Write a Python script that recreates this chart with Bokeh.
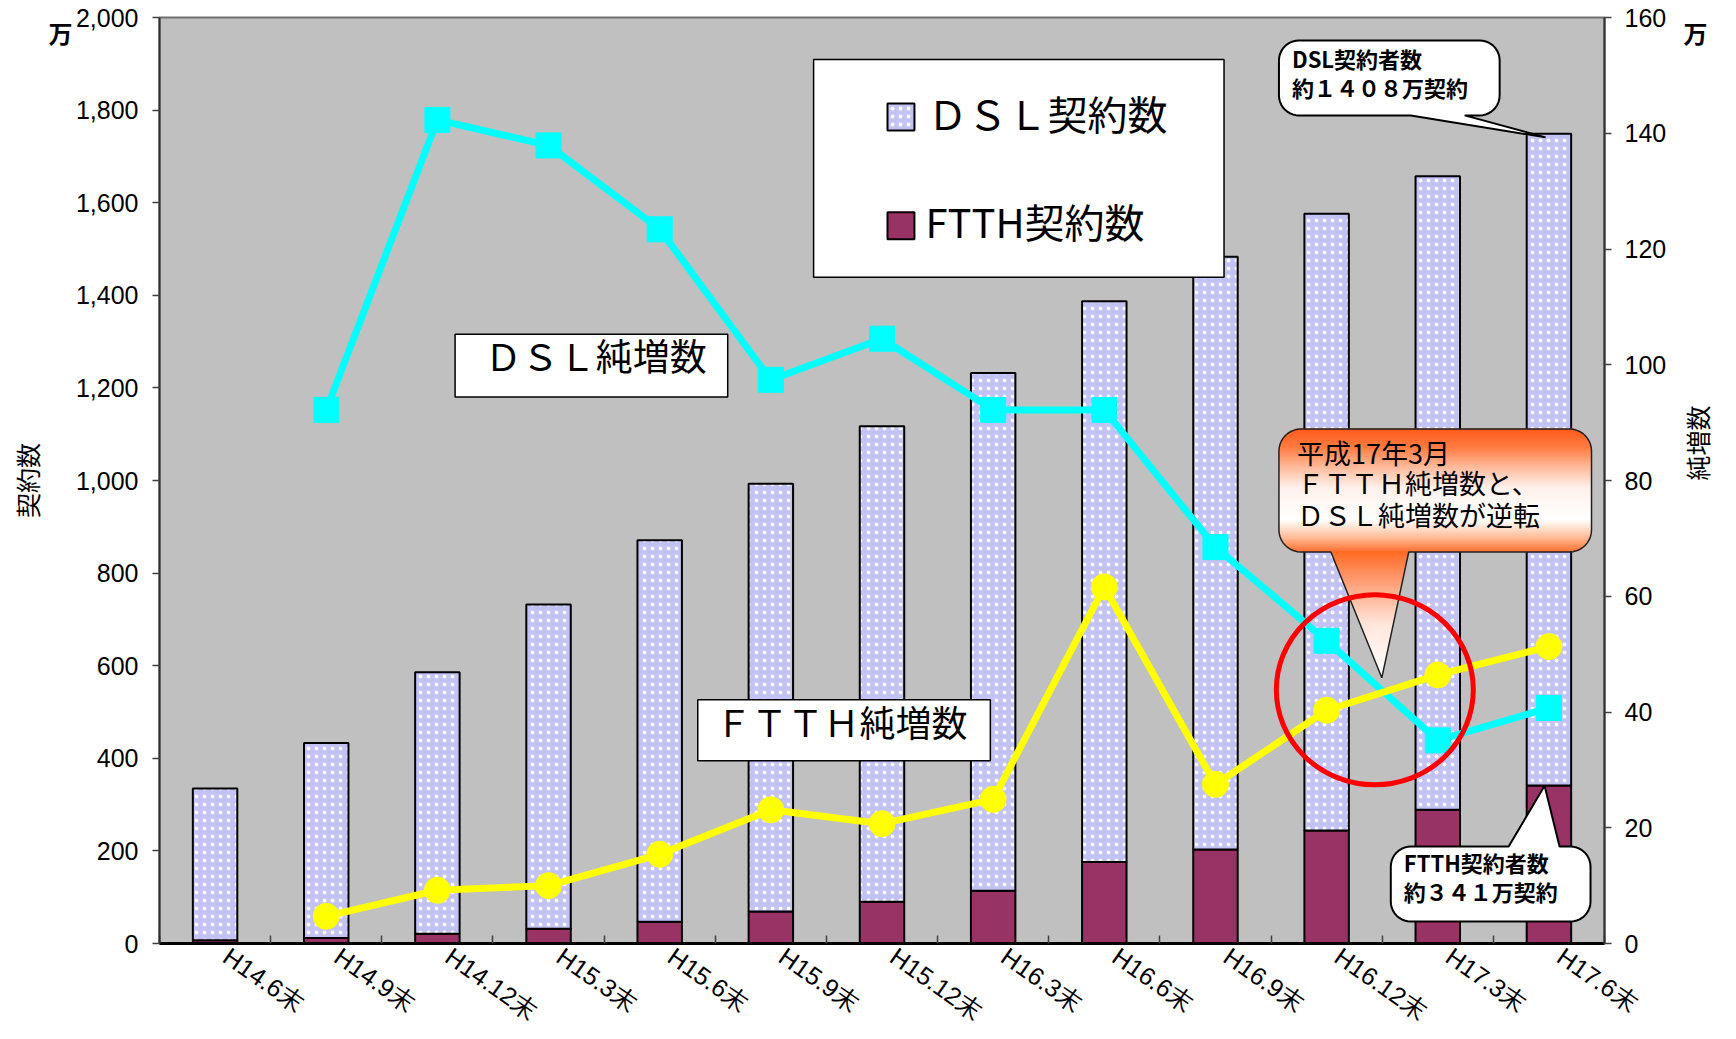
import math
from bokeh.plotting import figure
from bokeh.models import (Range1d, LinearAxis, FixedTicker, SingleIntervalTicker,
                          NumeralTickFormatter, CustomJSTickFormatter, ColumnDataSource)
from bokeh.core.properties import value
from bokeh.embed import file_html
from bokeh.resources import INLINE

# ---------------- data ----------------
categories = ["H14.6末", "H14.9末", "H14.12末", "H15.3末", "H15.6末", "H15.9末", "H15.12末",
              "H16.3末", "H16.6末", "H16.9末", "H16.12末", "H17.3末", "H17.6末"]
ftth_contracts = [7, 12, 21, 32, 47, 69, 90, 114, 176, 203, 244, 289, 341]          # 万
dsl_contracts = [328, 421, 565, 700, 824, 924, 1027, 1118, 1211, 1280, 1332, 1368, 1408]  # 万
dsl_net = [None, 92.2, 142.3, 137.9, 123.4, 97.4, 104.5, 92.2, 92.2, 68.5, 52.3, 35.1, 40.7]
ftth_net = [None, 4.7, 9.2, 10.0, 15.4, 23.1, 20.7, 24.9, 61.6, 27.5, 40.3, 46.4, 51.3]
left_max, left_step = 2000, 200
right_max, right_step = 160, 20

n = len(categories)
xs = [i + 0.5 for i in range(n)]

CJK = "Noto Sans CJK JP"
NUM = "Liberation Sans"

p = figure(width=1736, height=1039, x_range=Range1d(0, n), y_range=Range1d(0, left_max),
           output_backend="svg", toolbar_location=None,
           min_border_left=159, min_border_right=130, min_border_top=17, min_border_bottom=95)
p.background_fill_color = "#C0C0C0"
p.border_fill_color = "white"
p.outline_line_color = "#707070"
p.outline_line_width = 2
p.grid.visible = False

# x axis (rotated labels hang just right of each category centre, as in the original)
xa = p.xaxis[0]
xa.ticker = FixedTicker(ticks=[x + 0.1 for x in xs], minor_ticks=list(range(n + 1)))
xa.formatter = CustomJSTickFormatter(args=dict(labels=categories),
                                     code="return labels[Math.floor(tick)]")
xa.major_label_orientation = -0.61
xa.major_label_text_font = NUM
xa.major_label_text_font_size = "25px"
xa.major_label_text_color = "black"
xa.major_label_standoff = 10
xa.major_tick_line_color = None
xa.major_tick_in = 0
xa.major_tick_out = 0
xa.minor_tick_in = 8
xa.minor_tick_out = 0
xa.minor_tick_line_color = "#404040"
xa.minor_tick_line_width = 1.5
xa.axis_line_color = "black"
xa.axis_line_width = 3


def style_num_axis(ax, standoff):
    ax.major_label_text_font = NUM
    ax.major_label_text_font_size = "25px"
    ax.major_label_text_color = "black"
    ax.major_label_standoff = standoff
    ax.major_tick_out = 7
    ax.major_tick_in = 0
    ax.major_tick_line_color = "#404040"
    ax.major_tick_line_width = 1.5
    ax.minor_tick_line_color = None
    ax.axis_line_color = "#303030"
    ax.axis_line_width = 2


def unit_axis(ax, label, label_standoff, standoff):
    # axis that only carries the unit mark "万" and the axis title
    ax.formatter = CustomJSTickFormatter(code="return '万'")
    ax.major_label_text_font = CJK
    ax.major_label_text_font_size = "24px"
    ax.major_label_text_font_style = "bold"
    ax.major_label_text_color = "black"
    ax.major_label_standoff = standoff
    ax.major_tick_out = 0
    ax.major_tick_in = 0
    ax.major_tick_line_color = None
    ax.minor_tick_line_color = None
    ax.axis_line_color = None
    ax.axis_label = label
    ax.axis_label_text_font = CJK
    ax.axis_label_text_font_size = "25px"
    ax.axis_label_text_font_style = "normal"
    ax.axis_label_text_color = "black"
    ax.axis_label_standoff = label_standoff


# left axis
ya = p.yaxis[0]
ya.ticker = SingleIntervalTicker(interval=left_step, num_minor_ticks=0)
ya.formatter = NumeralTickFormatter(format="0,0")
style_num_axis(ya, 14)

ya2 = LinearAxis(ticker=FixedTicker(ticks=[1967]))
unit_axis(ya2, "契約数", 1, 0)
p.add_layout(ya2, "left")

# right axis
p.extra_y_ranges = {"net": Range1d(0, right_max)}
ra = LinearAxis(y_range_name="net",
                ticker=SingleIntervalTicker(interval=right_step, num_minor_ticks=0))
style_num_axis(ra, 13)
p.add_layout(ra, "right")

ra2 = LinearAxis(y_range_name="net", ticker=FixedTicker(ticks=[157.4]), bounds=(-7.8, 160))
unit_axis(ra2, "純増数", -13, 14)
ra2.axis_label_orientation = math.pi / 2
ra2.axis_label_text_baseline = "top"
p.add_layout(ra2, "right")

# ---------------- bars ----------------
src = ColumnDataSource(dict(x=xs, ftth=ftth_contracts, dsl=dsl_contracts))
bars = p.vbar_stack(["ftth", "dsl"], x="x", width=0.4, source=src,
                    fill_color=["#993366", "#C2C2F4"], line_color="black", line_width=2)
bars[1].glyph.hatch_pattern = "dot"
bars[1].glyph.hatch_color = "white"
bars[1].glyph.hatch_scale = 8
bars[1].glyph.hatch_weight = 1.5
bars[1].glyph.hatch_alpha = 0.9

# ---------------- lines ----------------
dx_ = [x for x, v in zip(xs, dsl_net) if v is not None]
dv_ = [v for v in dsl_net if v is not None]
fx_ = [x for x, v in zip(xs, ftth_net) if v is not None]
fv_ = [v for v in ftth_net if v is not None]
p.line(dx_, dv_, y_range_name="net", line_color="#00FFFF", line_width=7)
p.scatter(dx_, dv_, y_range_name="net", marker="square", size=25,
          fill_color="#00FFFF", line_color="#00FFFF")
p.line(fx_, fv_, y_range_name="net", line_color="#FFFF00", line_width=7)
p.scatter(fx_, fv_, y_range_name="net", marker="circle", size=26,
          fill_color="#FFFF00", line_color="#FFFF00")

# ---------------- annotation layout helpers (reference pixel layout) ----------------
FL, FR, FT, FB = 159.0, 1606.0, 17.0, 944.0


def X(px):
    return (px - FL) / (FR - FL) * n


def Y(py):
    return (FB - py) / (FB - FT) * left_max


def txt(x, y, s, size, align="left", bold=False, color="black"):
    p.text([X(x)], [Y(y)], text=[s], text_font=value(CJK), text_font_size=size,
           text_align=align, text_baseline="middle", text_color=color,
           text_font_style="bold" if bold else "normal")


def box(l, t, r, b, lw=1.5):
    p.quad(left=[X(l)], right=[X(r)], top=[Y(t)], bottom=[Y(b)],
           fill_color="white", line_color="black", line_width=lw)


def callout(l, t, r, b, rad, side, base0, base1, tip):
    pts = []

    def arc(cx, cy, a0, a1):
        for k in range(11):
            a = a0 + (a1 - a0) * k / 10
            pts.append((cx + rad * math.cos(a), cy + rad * math.sin(a)))

    arc(l + rad, t + rad, math.pi, 1.5 * math.pi)
    if side == "top":
        pts += [(base0, t), tip, (base1, t)]
    arc(r - rad, t + rad, 1.5 * math.pi, 2 * math.pi)
    arc(r - rad, b - rad, 0, 0.5 * math.pi)
    if side == "bottom":
        pts += [(base1, b), tip, (base0, b)]
    arc(l + rad, b - rad, 0.5 * math.pi, math.pi)
    return [X(a) for a, _ in pts], [Y(c) for _, c in pts]


def lerp_color(stops, y):
    def h2r(h):
        return [int(h[i:i + 2], 16) for i in (1, 3, 5)]
    if y <= stops[0][0]:
        return stops[0][1]
    for (y0, c0), (y1, c1) in zip(stops[:-1], stops[1:]):
        if y0 <= y <= y1:
            t = (y - y0) / (y1 - y0)
            a, b = h2r(c0), h2r(c1)
            return "#%02x%02x%02x" % tuple(round(a[i] + (b[i] - a[i]) * t) for i in range(3))
    return stops[-1][1]


# legend (Excel style box)
box(814, 59, 1225, 277, lw=1.5)
p.quad(left=[X(888)], right=[X(915)], top=[Y(103)], bottom=[Y(130)],
       fill_color="#C2C2F4", line_color="black", line_width=2,
       hatch_pattern="dot", hatch_color="white", hatch_scale=8, hatch_weight=1.5)
p.quad(left=[X(888)], right=[X(915)], top=[Y(212)], bottom=[Y(239)],
       fill_color="#993366", line_color="black", line_width=2)
txt(928, 113, "ＤＳＬ契約数", "40px")
txt(926, 221, "FTTH契約数", "40px")

# series name boxes
box(455, 334, 728, 397)
txt(707, 355, "ＤＳＬ純増数", "37px", align="right")
box(698, 700, 991, 761)
txt(968, 721, "ＦＴＴＨ純増数", "36px", align="right")

# DSL contracts callout
cx, cy = callout(1280, 40, 1501, 115, 20, "bottom", 1412, 1466, (1547, 137))
p.patch(cx, cy, fill_color="white", line_color="black", line_width=2)
txt(1293, 58, "DSL契約者数", "22px", bold=True)
txt(1293, 87, "約１４０８万契約", "22px", bold=True)

# FTTH contracts callout
cx, cy = callout(1392, 847, 1592, 922, 20, "top", 1510, 1561, (1546, 786))
p.patch(cx, cy, fill_color="white", line_color="black", line_width=2)
txt(1405, 862, "FTTH契約者数", "22px", bold=True)
txt(1405, 891, "約３４１万契約", "22px", bold=True)

# orange gradient callout
OL, OT, OR_, OB, ORAD = 1280, 429, 1593, 552, 22
box_stops = [(429, "#FF5A1A"), (447, "#FF7A40"), (467, "#FFB898"), (488, "#FFF0EA"),
             (520, "#FFFFFF"), (538, "#FFBC98"), (552, "#FF7030")]
tail_stops = [(552, "#FF6A20"), (580, "#FF9A70"), (625, "#FFE6DC"), (678, "#FFFFFF")]
ls, rs_, ts, bs, cs = [], [], [], [], []
step = 2.0
yv = OT
while yv < OB:
    ym = yv + step / 2
    inset = 0.0
    if ym < OT + ORAD:
        d = OT + ORAD - ym
        inset = ORAD - math.sqrt(max(ORAD ** 2 - d ** 2, 0))
    elif ym > OB - ORAD:
        d = ym - (OB - ORAD)
        inset = ORAD - math.sqrt(max(ORAD ** 2 - d ** 2, 0))
    ls.append(X(OL + inset)); rs_.append(X(OR_ - inset))
    ts.append(Y(yv - 0.4)); bs.append(Y(min(yv + step + 0.4, OB)))
    cs.append(lerp_color(box_stops, ym))
    yv += step
b0, b1, tip = 1332, 1410, (1383, 678)
yv = OB
while yv < tip[1]:
    ym = yv + step / 2
    t = (ym - OB) / (tip[1] - OB)
    ls.append(X(b0 + (tip[0] - b0) * t)); rs_.append(X(b1 + (tip[0] - b1) * t))
    ts.append(Y(yv - 0.4)); bs.append(Y(yv + step + 0.4))
    cs.append(lerp_color(tail_stops, ym))
    yv += step
p.quad(left=ls, right=rs_, top=ts, bottom=bs, fill_color=cs, line_color=None)
cx, cy = callout(OL, OT, OR_, OB, ORAD, "bottom", b0, b1, tip)
p.patch(cx, cy, fill_color=None, line_color="#202020", line_width=1.5)
txt(1298, 452, "平成17年3月", "27px")
txt(1298, 483, "ＦＴＴＨ純増数と、", "27px")
txt(1298, 515, "ＤＳＬ純増数が逆転", "27px")

# red circle
p.ellipse([X(1376)], [Y(690)], width=197, height=190, width_units="screen",
          height_units="screen", fill_color=None, line_color="#FF0000", line_width=5)

open("out.html", "w").write(file_html(p, INLINE))
